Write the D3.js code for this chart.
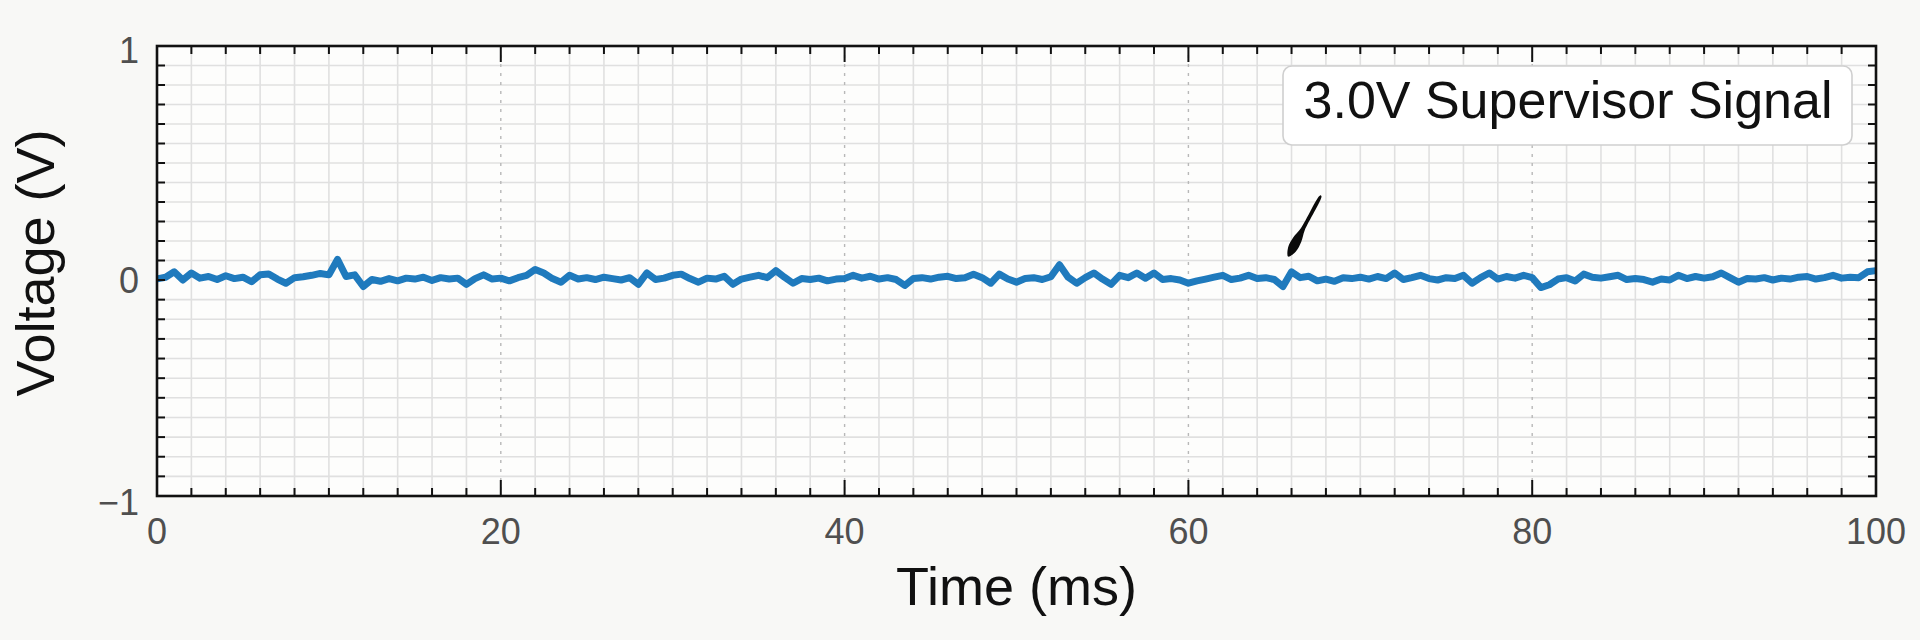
<!DOCTYPE html>
<html>
<head>
<meta charset="utf-8">
<script src="https://cdn.jsdelivr.net/npm/d3@7"></script>
<style>
  html, body { margin: 0; padding: 0; background: #f8f8f6; }
  svg { display: block; font-family: "Liberation Sans", Arial, sans-serif; }
</style>
</head>
<body>
<svg id="chart" width="1920" height="640"></svg>
<script>
// sampled trace, one value every 0.5 ms from 0 to 100 ms
const sampleStepMs = 0.5;
const voltage = [
  0.005, 0.012, 0.035, 0.000, 0.030, 0.008, 0.015, 0.002, 0.018, 0.006,
  0.012, -0.008, 0.022, 0.026, 0.004, -0.015, 0.010, 0.014, 0.020, 0.028,
  0.022, 0.088, 0.015, 0.022, -0.030, 0.002, -0.006, 0.006, -0.004, 0.008,
  0.004, 0.012, -0.002, 0.010, 0.004, 0.008, -0.020, 0.006, 0.022, 0.004,
  0.008, -0.004, 0.010, 0.020, 0.045, 0.030, 0.006, -0.010, 0.020, 0.004,
  0.010, 0.002, 0.012, 0.006, 0.000, 0.010, -0.020, 0.030, 0.002, 0.008,
  0.020, 0.025, 0.006, -0.010, 0.008, 0.004, 0.016, -0.020, 0.004, 0.012,
  0.020, 0.010, 0.040, 0.012, -0.015, 0.006, 0.002, 0.008, -0.004, 0.004,
  0.006, 0.020, 0.008, 0.016, 0.004, 0.010, 0.002, -0.025, 0.006, 0.010,
  0.004, 0.012, 0.016, 0.006, 0.010, 0.025, 0.010, -0.015, 0.025, 0.004,
  -0.010, 0.006, 0.010, 0.002, 0.014, 0.065, 0.012, -0.015, 0.010, 0.030,
  0.004, -0.020, 0.020, 0.010, 0.030, 0.008, 0.030, 0.002, 0.006, 0.000,
  -0.015, -0.004, 0.004, 0.012, 0.020, 0.002, 0.008, 0.020, 0.006, 0.010,
  0.002, -0.030, 0.035, 0.010, 0.016, -0.004, 0.004, -0.006, 0.010, 0.006,
  0.012, 0.004, 0.015, 0.006, 0.030, 0.002, 0.010, 0.020, 0.006, 0.000,
  0.010, 0.006, 0.020, -0.015, 0.010, 0.030, 0.004, 0.015, 0.008, 0.020,
  0.010, -0.035, -0.022, 0.004, 0.010, -0.005, 0.025, 0.012, 0.008, 0.014,
  0.020, 0.002, 0.006, 0.002, -0.010, 0.004, 0.000, 0.020, 0.006, 0.015,
  0.008, 0.014, 0.030, 0.010, -0.010, 0.006, 0.004, 0.010, 0.000, 0.008,
  0.004, 0.012, 0.015, 0.004, 0.010, 0.020, 0.008, 0.012, 0.010, 0.035,
  0.040
];
const xTickValues = [0, 20, 40, 60, 80, 100];
const yTickValues = [-1, 0, 1];
const yTickLabels = ['\u22121', '0', '1'];
const legendLabel = '3.0V Supervisor Signal';
const arrowFrom = [67.7, 0.36];
const arrowTo = [65.8, 0.10];

const svg = d3.select('#chart'),
  plotL = 157, plotR = 1876, plotT = 46, plotB = 496;

const x = d3.scaleLinear().domain([0, 100]).range([plotL, plotR]);
// the zero line sits a little below the middle of the frame in the reference
const y = d3.scaleLinear().domain([-1, 0, 1]).range([plotB, 280, plotT]);

svg.append('rect')
  .attr('x', plotL).attr('y', plotT)
  .attr('width', plotR - plotL).attr('height', plotB - plotT)
  .attr('fill', '#fdfdfc');

// minor grid: every 2 ms, 12 steps above zero and 11 below
const xMinor = d3.range(2, 100, 2).filter(d => d % 20 !== 0);
const yMinor = d3.range(1, 12).map(k => k / 12).concat(d3.range(1, 11).map(k => -k / 11));

const grid = svg.append('g');
grid.selectAll('.vx')
  .data(xMinor)
  .enter()
  .append('line')
  .attr('x1', d => x(d)).attr('x2', d => x(d))
  .attr('y1', plotT).attr('y2', plotB)
  .attr('stroke', '#e0e0e0').attr('stroke-width', 1.6);
grid.selectAll('.hy')
  .data(yMinor)
  .enter()
  .append('line')
  .attr('x1', plotL).attr('x2', plotR)
  .attr('y1', d => y(d)).attr('y2', d => y(d))
  .attr('stroke', '#e0e0e0').attr('stroke-width', 1.6);
grid.selectAll('.vmaj')
  .data([20, 40, 60, 80])
  .enter()
  .append('line')
  .attr('x1', d => x(d)).attr('x2', d => x(d))
  .attr('y1', plotT).attr('y2', plotB)
  .attr('stroke', '#b8b8b8').attr('stroke-width', 1.4)
  .attr('stroke-dasharray', '3,6');

// trace
const line = d3.line()
  .x((d, i) => x(i * sampleStepMs))
  .y(d => y(d));
svg.append('path')
  .datum(voltage)
  .attr('fill', 'none')
  .attr('stroke', '#1f7abd')
  .attr('stroke-width', 7)
  .attr('stroke-linejoin', 'round')
  .attr('d', line);

// frame ticks, pointing inwards on all four sides
const tickLen = 8, majorLen = 16;
const xMinorTicks = d3.range(2, 100, 2);
const ticks = svg.append('g').attr('stroke', '#111').attr('stroke-width', 2);
[plotB, plotT].forEach(edge => {
  const dir = edge === plotB ? -1 : 1;
  ticks.selectAll(null)
    .data(xMinorTicks)
    .enter()
    .append('line')
    .attr('x1', d => x(d)).attr('x2', d => x(d))
    .attr('y1', edge)
    .attr('y2', d => edge + dir * (d % 20 === 0 ? majorLen : tickLen));
});
[plotL, plotR].forEach(edge => {
  const dir = edge === plotL ? 1 : -1;
  ticks.selectAll(null)
    .data(yMinor.concat([0]))
    .enter()
    .append('line')
    .attr('y1', d => y(d)).attr('y2', d => y(d))
    .attr('x1', edge)
    .attr('x2', edge + dir * tickLen);
});

svg.append('rect')
  .attr('x', plotL).attr('y', plotT)
  .attr('width', plotR - plotL).attr('height', plotB - plotT)
  .attr('fill', 'none').attr('stroke', '#111').attr('stroke-width', 2.6);

// tick labels
svg.append('g')
  .selectAll('text')
  .data(xTickValues)
  .enter()
  .append('text')
  .attr('x', d => x(d))
  .attr('y', 544)
  .attr('text-anchor', 'middle')
  .attr('fill', '#4f4f4f')
  .style('font-size', '36px')
  .text(d => d);
svg.append('g')
  .selectAll('text')
  .data(yTickValues)
  .enter()
  .append('text')
  .attr('x', 139)
  .attr('y', d => y(d) + 13 + (d === 1 ? 4 : 0) + (d === -1 ? 6 : 0))
  .attr('text-anchor', 'end')
  .attr('fill', '#4f4f4f')
  .style('font-size', '36px')
  .text((d, i) => yTickLabels[i]);

// axis titles
svg.append('text')
  .attr('x', x(50)).attr('y', 605)
  .attr('text-anchor', 'middle')
  .attr('fill', '#111')
  .style('font-size', '54px')
  .text('Time (ms)');
svg.append('text')
  .attr('transform', 'translate(54,263) rotate(-90)')
  .attr('text-anchor', 'middle')
  .attr('fill', '#111')
  .style('font-size', '54px')
  .text('Voltage (V)');

// legend box
const legend = svg.append('g');
legend.append('rect')
  .attr('x', 1283).attr('y', 66)
  .attr('width', 569).attr('height', 79)
  .attr('rx', 9)
  .attr('fill', '#fff')
  .attr('stroke', '#cfcfcf').attr('stroke-width', 1.6);
legend.append('text')
  .attr('x', 1568).attr('y', 118)
  .attr('text-anchor', 'middle')
  .attr('fill', '#111')
  .style('font-size', '52px')
  .text(legendLabel);

// hand-drawn style arrow pointing at the trace
const [ax0, ay0] = [x(arrowFrom[0]), y(arrowFrom[1])];
const [ax1, ay1] = [x(arrowTo[0]), y(arrowTo[1])];
const len = Math.hypot(ax1 - ax0, ay1 - ay0),
  ux = (ax1 - ax0) / len, uy = (ay1 - ay0) / len,
  nx = -uy, ny = ux;
const pt = (s, w) => [ax0 + ux * s + nx * w, ay0 + uy * s + ny * w];
const outline = [
  pt(0, -0.8), pt(len * 0.55, -2.2), pt(len * 0.72, -4.6), pt(len * 0.88, -4.4), pt(len, 0),
  pt(len * 0.88, 4.4), pt(len * 0.72, 4.6), pt(len * 0.55, 2.2), pt(0, 0.8)
];
svg.append('path')
  .attr('d', d3.line().curve(d3.curveCatmullRomClosed)(outline))
  .attr('fill', '#0a0a0a');
</script>
</body>
</html>
